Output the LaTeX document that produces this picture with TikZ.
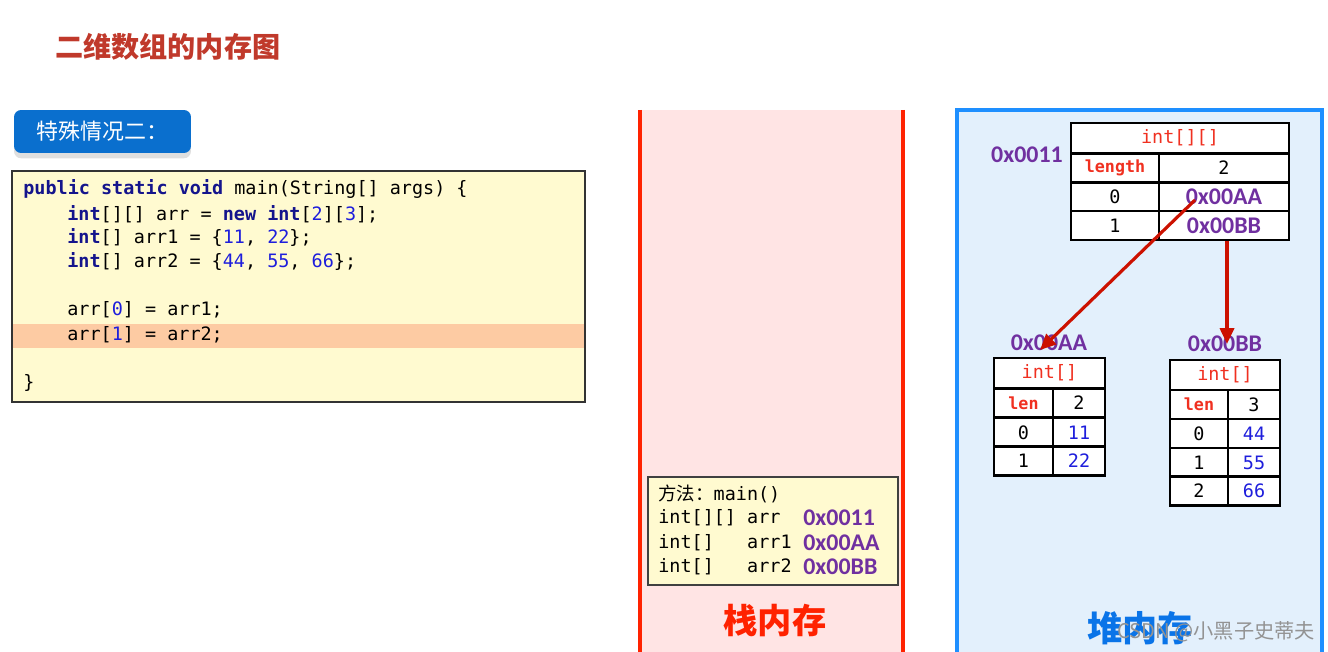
\documentclass[tikz,border=0pt]{standalone}
\usepackage{fontspec}
\setmonofont{DejaVu Sans Mono}
\newfontfamily\cjk{Noto Sans CJK SC}
\newfontfamily\addrfont{Carlito}
\usetikzlibrary{arrows.meta,shadows}
\definecolor{titlered}{HTML}{C0392B}
\definecolor{badgeblue}{HTML}{0A6FCE}
\definecolor{codebg}{HTML}{FFFAD0}
\definecolor{hlrow}{HTML}{FDCBA3}
\definecolor{kwblue}{HTML}{14148C}
\definecolor{numblue}{HTML}{1E1EDC}
\definecolor{stackbg}{HTML}{FFE4E4}
\definecolor{stackred}{HTML}{FF2200}
\definecolor{heapbg}{HTML}{E3F0FC}
\definecolor{heapblue}{HTML}{1E8FFF}
\definecolor{heaptext}{HTML}{0A74E8}
\definecolor{addrpurple}{HTML}{7030A0}
\definecolor{tabred}{HTML}{F03020}
\definecolor{arrowred}{HTML}{CC1100}
\newcommand{\kwd}[1]{\textbf{\textcolor{kwblue}{#1}}}
\newcommand{\numb}[1]{\textcolor{numblue}{#1}}
\begin{document}
\begin{tikzpicture}[x=0.02cm,y=-0.02cm,every node/.style={inner sep=0pt},
  code/.style={anchor=west,font=\ttfamily\fontsize{10.5}{12}\selectfont},
  cell/.style={draw,line width=1.3pt,fill=white,minimum height=0.58cm,font=\ttfamily\fontsize{10.5}{12}\selectfont},
  lenkey/.style={text=tabred,font=\ttfamily\bfseries\fontsize{9.5}{11}\selectfont},
  addr/.style={text=addrpurple,font=\addrfont\bfseries\fontsize{13.6}{15}\selectfont},
  ptr/.style={-{Triangle[length=9pt,width=8pt]},line width=1.8pt,draw=arrowred,fill=arrowred}]
\useasboundingbox (0,0) rectangle (1328,652);
\clip (0,0) rectangle (1328,652);
% title and badge
\node[anchor=west,text=titlered,font=\cjk\bfseries\fontsize{16}{18}\selectfont] (title) at (55,47) {二维数组的内存图};
\node[fill=badgeblue,rounded corners=4pt,minimum width=3.54cm,minimum height=0.86cm,text=white,
  font=\cjk\fontsize{12.5}{14}\selectfont,drop shadow={shadow xshift=0pt,shadow yshift=-3pt,opacity=0.25}] (badge) at (102.5,131.5) {特殊情况二：};
% code listing
\draw[fill=codebg,draw=black!80,line width=0.8pt] (12,171) rectangle (585,402);
\fill[hlrow] (13,324) rectangle (584,348);
\node[code] (l1) at (23,189) {\kwd{public static void} main(String[] args) \{};
\node[code] (l2) at (67,214) {\kwd{int}[][] arr = \kwd{new} \kwd{int}[\numb{2}][\numb{3}];};
\node[code] (l3) at (67,238) {\kwd{int}[] arr1 = \{\numb{11}, \numb{22}\};};
\node[code] (l4) at (67,262) {\kwd{int}[] arr2 = \{\numb{44}, \numb{55}, \numb{66}\};};
\node[code] (l5) at (67,310) {arr[\numb{0}] = arr1;};
\node[code] (l6) at (67,335) {arr[\numb{1}] = arr2;};
\node[code] (l7) at (23,383) {\}};
% stack memory
\fill[stackbg] (640,110) rectangle (903,660);
\draw[stackred,line width=1.8pt] (640,110) -- (640,660) (903,110) -- (903,660);
\draw[fill=codebg,draw=black!75,line width=0.9pt] (648,477) rectangle (898,585);
\node[code] (f0) at (658,494) {{\cjk 方法：}main()};
\foreach \n/\y/\t/\a in {1/518/int[][] arr/0x0011,2/543/int[]\ \ \ arr1/0x00AA,3/567/int[]\ \ \ arr2/0x00BB} {
  \node[code] (f\n) at (658,\y) {\t};
  \node[addr,anchor=west] (fa\n) at (803,\y) {\a};
}
\node[text=stackred,font=\cjk\bfseries\fontsize{19.5}{22}\selectfont] (stacklbl) at (775,620) {栈内存};
% heap memory
\draw[fill=heapbg,draw=heapblue,line width=1.8pt] (957,110) rectangle (1322,700);
\node[text=heaptext,font=\cjk\bfseries\fontsize{20}{22}\selectfont] (heaplbl) at (1140,628) {堆内存};
\node[text=gray!85,font=\cjk\fontsize{11.5}{13}\selectfont] (mark) at (1216,632) {CSDN @小黑子史蒂夫};
% int[][] object
\node[addr] (addr11) at (1027,155) {0x0011};
\node[cell,minimum width=4.36cm,minimum height=0.6cm,text=tabred] (arrH) at (1180,138) {int[][]};
\node[cell,minimum width=1.76cm,lenkey] (arrLk) at (1115,168) {length};
\node[cell,minimum width=2.6cm] (arrLv) at (1224,168) {2};
\foreach \i/\y/\v in {0/197/0x00AA,1/225.5/0x00BB} {
  \node[cell,minimum width=1.76cm] (arrK\i) at (1115,\y) {\i};
  \node[cell,minimum width=2.6cm,addr] (arrV\i) at (1224,\y) {\v};
}
% arr1 object
\node[addr] (labAA) at (1049,343) {0x00AA};
\node[cell,minimum width=2.22cm,minimum height=0.6cm,text=tabred] (aH) at (1049.5,373) {int[]};
\node[cell,minimum width=1.18cm,lenkey] (aLk) at (1023.5,403) {len};
\node[cell,minimum width=1.04cm] (aLv) at (1079,403) {2};
\foreach \i/\y/\v in {0/432.5/11,1/461/22} {
  \node[cell,minimum width=1.18cm] (aK\i) at (1023.5,\y) {\i};
  \node[cell,minimum width=1.04cm,text=numblue] (aV\i) at (1079,\y) {\v};
}
% arr2 object
\node[addr] (labBB) at (1225,344) {0x00BB};
\node[cell,minimum width=2.2cm,minimum height=0.6cm,text=tabred] (bH) at (1225,375) {int[]};
\node[cell,minimum width=1.16cm,lenkey] (bLk) at (1199,404.5) {len};
\node[cell,minimum width=1.04cm] (bLv) at (1254,404.5) {3};
\foreach \i/\y/\v in {0/433.5/44,1/462.5/55,2/491/66} {
  \node[cell,minimum width=1.16cm] (bK\i) at (1199,\y) {\i};
  \node[cell,minimum width=1.04cm,text=numblue] (bV\i) at (1254,\y) {\v};
}
% references
\draw[ptr] ([xshift=-0.58cm,yshift=-0.06cm]arrV0.center) -- ([xshift=-0.18cm,yshift=-0.14cm]labAA.center);
\draw[ptr] ([xshift=0.06cm]arrV1.south) -- ([xshift=0.06cm]arrV1.south |- labBB.center);
\end{tikzpicture}
\end{document}
